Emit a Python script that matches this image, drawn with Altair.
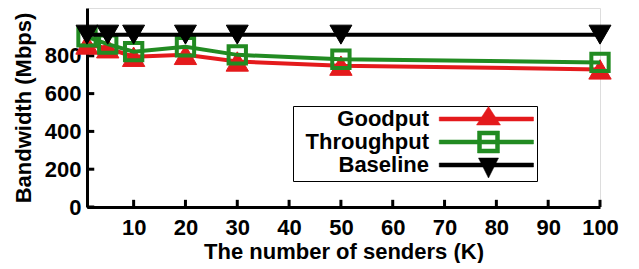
import altair as alt
import pandas as pd

senders = [1, 5, 10, 20, 30, 50, 100]
goodput = [860, 840, 795, 805, 770, 748, 728]
throughput = [900, 862, 822, 848, 805, 782, 765]
baseline = [912, 912, 912, 912, 912, 912, 912]
series_names = ["Goodput", "Throughput", "Baseline"]
series_colors = ["#e41a1c", "#228b22", "#000000"]
x_ticks = [10, 20, 30, 40, 50, 60, 70, 80, 90, 100]
y_ticks = [0, 200, 400, 600, 800]

rows = []
for name, vals in zip(series_names, [goodput, throughput, baseline]):
    for s, v in zip(senders, vals):
        rows.append({"series": name, "senders": s, "value": v})
df = pd.DataFrame(rows)

FONT = "Liberation Sans"
FS = 22
xscale = alt.Scale(domain=[1, 100], nice=False, zero=False)
yscale = alt.Scale(domain=[0, 1053], nice=False)

LINE = "M26.65,-0.4H45.5V0.4H26.65Z"
shape_sig = (
    f"datum.value === 'Goodput' ? '{LINE}M36.5,-2.5L38.9,1.2H34.1Z' : "
    f"datum.value === 'Throughput' ? '{LINE}M34.3,-2.2H38.7V2.2H34.3ZM35.1,-1.4V1.4H37.9V-1.4Z' : "
    f"'{LINE}M34.5,-1.4H38.5L36.5,2.6Z'"
)
col_sig = "datum.value === 'Goodput' ? '#e41a1c' : datum.value === 'Throughput' ? '#228b22' : '#000000'"

legend = alt.Legend(
    title=None,
    orient="none",
    legendX=206,
    legendY=98,
    strokeColor="black",
    padding=2,
    symbolSize=100,
    symbolType={"expr": shape_sig},
    symbolFillColor={"expr": col_sig},
    symbolStrokeColor={"expr": col_sig},
    symbolStrokeWidth=0.5,
    symbolOpacity=1,
    labelAlign="right",
    labelOffset=112,
    labelFont=FONT,
    labelFontSize=FS,
    labelFontWeight="bold",
    labelColor="black",
    labelBaseline="middle",
    rowPadding=0,
)

color = alt.Color(
    "series:N",
    scale=alt.Scale(domain=series_names, range=series_colors),
    legend=legend,
)

xenc = alt.X(
    "senders:Q",
    scale=xscale,
    axis=alt.Axis(
        values=x_ticks,
        ticks=False,
        grid=False,
        domainWidth=3,
        domainColor="black",
        labelFlush=False,
        labelFont=FONT,
        labelFontSize=FS,
        labelFontWeight="bold",
        labelColor="black",
        labelPadding=10,
        title="The number of senders (K)",
        titleFont=FONT,
        titleFontSize=FS,
        titleFontWeight="bold",
        titleColor="black",
        titlePadding=3,
    ),
)
yenc = alt.Y(
    "value:Q",
    scale=yscale,
    axis=alt.Axis(
        values=y_ticks,
        ticks=False,
        grid=False,
        domainWidth=3,
        domainColor="black",
        labelFlush=False,
        labelFont=FONT,
        labelFontSize=FS,
        labelFontWeight="bold",
        labelColor="black",
        labelPadding=6,
        title="Bandwidth (Mbps)",
        titleFont=FONT,
        titleFontSize=FS,
        titleFontWeight="bold",
        titleColor="black",
        titlePadding=9,
    ),
)

base = alt.Chart(df)
layers = []
shapes = {"Goodput": "triangle-up", "Throughput": "square", "Baseline": "triangle-down"}
sizes = {"Goodput": 500, "Throughput": 300, "Baseline": 480}
for name, col in zip(series_names, series_colors):
    sub = base.transform_filter(alt.datum.series == name)
    layers.append(
        sub.mark_line(strokeWidth=4).encode(x=xenc, y=yenc, color=color)
    )
    if name == "Throughput":
        pt = sub.mark_point(shape="square", size=sizes[name], filled=False,
                            stroke=col, strokeWidth=4, opacity=1)
    else:
        pt = sub.mark_point(shape=shapes[name], size=sizes[name], filled=True,
                            fill=col, stroke=col, strokeWidth=1, opacity=1)
    layers.append(pt.encode(x=alt.X("senders:Q", scale=xscale),
                            y=alt.Y("value:Q", scale=yscale)))

xt = pd.DataFrame({"t": x_ticks, "y0": [0] * len(x_ticks), "y1": [38] * len(x_ticks)})
yt = pd.DataFrame({"t": y_ticks, "x0": [1] * len(y_ticks), "x1": [2.4] * len(y_ticks)})
xtick_layer = alt.Chart(xt).mark_rule(color="black", strokeWidth=3).encode(
    x=alt.X("t:Q", scale=xscale), y=alt.Y("y0:Q", scale=yscale), y2="y1:Q")
ytick_layer = alt.Chart(yt).mark_rule(color="black", strokeWidth=3).encode(
    y=alt.Y("t:Q", scale=yscale), x=alt.X("x0:Q", scale=xscale), x2="x1:Q")

chart = alt.layer(xtick_layer, ytick_layer, *layers).properties(
    width=513,
    height=199,
    autosize=alt.AutoSizeParams(type="none"),
    padding={"left": 79, "top": 0, "right": 20, "bottom": 56},
).configure_view(stroke=None).configure(background="white")

chart.save("out.html", embed_options={"renderer": "svg", "actions": False})
